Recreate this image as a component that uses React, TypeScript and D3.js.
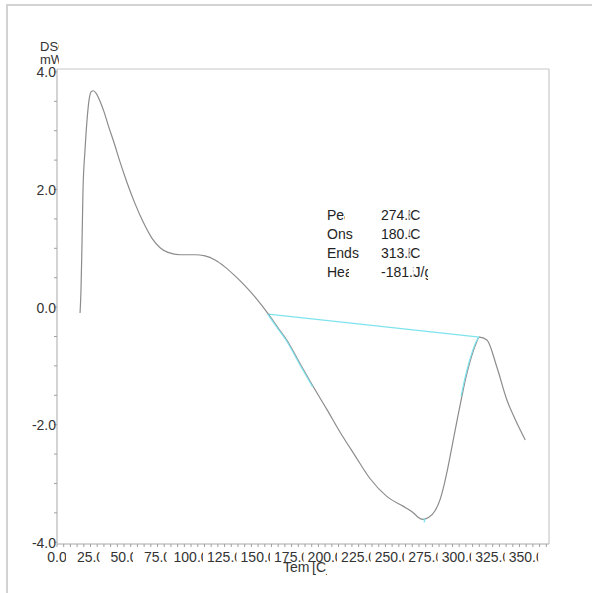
import React from "react";
import * as d3 from "d3";

// DSC curve (temperature °C, heat flow mW)
const temps = [17.2, 17.9, 18.7, 19.4, 20.9, 22.4, 23.9, 25.4, 27.1, 29.1, 32.1, 35.1, 38.1, 42.5, 47.0, 52.2, 58.2, 64.2, 70.9, 76.9, 82.8, 91.8, 103.0, 110.4, 117.9, 125.4, 132.8, 140.3, 147.8, 157.7, 164.5, 171.4, 181, 191.3, 201.3, 211.2, 222.4, 233.6, 246.0, 258.4, 263.4, 266.4, 269.6, 272.6, 277.1, 282.1, 285.8, 288.8, 291.5, 295, 298.5, 302.0, 305, 308.2, 311.9, 315.1, 320.7, 328.1, 335.6, 342, 349.3];
const dsc = [-0.10, 0.29, 1.14, 1.99, 2.67, 3.18, 3.52, 3.66, 3.68, 3.64, 3.50, 3.32, 3.10, 2.80, 2.47, 2.12, 1.76, 1.45, 1.17, 1.01, 0.93, 0.89, 0.89, 0.87, 0.80, 0.68, 0.53, 0.36, 0.17, -0.12, -0.34, -0.56, -0.95, -1.36, -1.74, -2.13, -2.53, -2.92, -3.22, -3.39, -3.46, -3.51, -3.58, -3.61, -3.58, -3.46, -3.27, -3.02, -2.74, -2.33, -1.92, -1.52, -1.20, -0.92, -0.66, -0.51, -0.56, -1.02, -1.58, -1.92, -2.26];

// integration baseline (start / end)
const baselineT = [157.7, 315.1];
const baselineV = [-0.12, -0.51];
const peakT = 274.8;

// tick labels
const xTicks = [0, 25, 50, 75, 100, 125, 150, 175, 200, 225, 250, 275, 300, 325, 350];
const yTicks = [4, 2, 0, -2, -4];

// result box
const resultNames = ["Peak", "Onset", "Endset", "Heat"];
const resultValues = ["274.8", "180.4", "313.8", "-181.5"];
const resultUnits = ["C", "C", "C", "J/g"];

const FONT = "'Liberation Sans', Arial, sans-serif";

// gradient that is solid up to x=cut and transparent after
function Cut({ id, cut, color }: { id: string; cut: number; color: string }) {
  const o = cut / 600;
  return (
    <linearGradient id={id} gradientUnits="userSpaceOnUse" x1={0} y1={0} x2={600} y2={0}>
      <stop offset={o} stopColor={color} stopOpacity={1} />
      <stop offset={o} stopColor={color} stopOpacity={0} />
    </linearGradient>
  );
}

export default function App() {
  const L = 57, R = 549, T = 69, B = 544;
  const x = d3.scaleLinear().domain([0, 367]).range([L, R]);
  const y = d3.scaleLinear().domain([-4.03, 4.05]).range([B, T]);

  const pts: [number, number][] = temps.map((t, i) => [t, dsc[i]]);
  const line = d3
    .line<[number, number]>()
    .x((d) => x(d[0]))
    .y((d) => y(d[1]))
    .curve(d3.curveMonotoneX);

  const cyanLeft = pts.filter((p) => p[0] >= 157.7 && p[0] <= 191.3);
  const cyanRight = pts.filter((p) => p[0] >= 300 && p[0] <= 315.1);
  const peakV = dsc[temps.indexOf(272.6)];

  const minorX = d3.range(0, 366, 5);
  const minorY = d3.range(-4, 4.01, 0.5);

  const nameCut = [345, 353, 359, 349];
  const lastW = [2, 2, 2, 0.6];
  const rowY = [220, 239, 258, 277];

  return (
    <svg
      width={592}
      height={593}
      style={{ position: "absolute", left: 0, top: 0, background: "#fff" }}
      fontFamily={FONT}
    >
      <defs>
        {xTicks.map((t, i) => (
          <clipPath id={`xl${i}`} key={i}>
            <rect x={x(t) - 25} y={540} width={25 + (t >= 100 ? 12 : 9)} height={40} />
          </clipPath>
        ))}
        <clipPath id="ylab">
          <rect x={0} y={0} width={56.5} height={593} />
        </clipPath>
        <clipPath id="ytitle">
          <rect x={0} y={0} width={59} height={80} />
        </clipPath>
        {resultNames.map((_, i) => (
          <Cut key={`n${i}`} id={`rn${i}`} cut={nameCut[i]} color="#222" />
        ))}
        <Cut id="ru" cut={428} color="#222" />
        <Cut id="xt1" cut={309} color="#333" />
        <Cut id="xt2" cut={327} color="#333" />
      </defs>

      {/* outer frame */}
      <rect x={7} y={5} width={700} height={700} fill="none" stroke="#d2d2d2" strokeWidth={2} />

      {/* plot frame */}
      <line x1={L} x2={R} y1={T} y2={T} stroke="#c8c8c8" strokeWidth={1.2} />
      <line x1={R} x2={R} y1={T} y2={B} stroke="#c8c8c8" strokeWidth={1.2} />
      <line x1={L} x2={L} y1={T} y2={B} stroke="#a8a8a8" strokeWidth={1} />
      <line x1={L} x2={R} y1={B} y2={B} stroke="#a8a8a8" strokeWidth={1} />

      {/* ticks */}
      {minorX.map((t) => (
        <line key={t} x1={x(t)} x2={x(t)} y1={B} y2={B + 3} stroke="#a0a0a0" strokeWidth={1} />
      ))}
      {minorY.map((v) => (
        <line key={v} x1={L - 3} x2={L} y1={y(v)} y2={y(v)} stroke="#a0a0a0" strokeWidth={1} />
      ))}

      {/* x tick labels */}
      {xTicks.map((t, i) => (
        <text
          key={t}
          x={x(t)}
          y={562}
          textAnchor="middle"
          fontSize={14}
          fill="#333"
          clipPath={`url(#xl${i})`}
        >
          {t.toFixed(1)}
        </text>
      ))}

      {/* y tick labels */}
      <g clipPath="url(#ylab)">
        {yTicks.map((v) => (
          <text key={v} x={56} y={y(v) + 5.5} textAnchor="end" fontSize={14} fill="#333">
            {v.toFixed(1)}
          </text>
        ))}
      </g>

      {/* axis titles */}
      <g clipPath="url(#ytitle)">
        <text x={40} y={50.5} fontSize={13} fill="#333">DSC</text>
        <text x={40} y={64} fontSize={13} fill="#333">mW</text>
      </g>
      <text y={572} fontSize={14}>
        <tspan x={283} fill="url(#xt1)">Temp</tspan>
        <tspan x={312} fill="url(#xt2)">[C]</tspan>
      </text>

      {/* baseline */}
      <line
        x1={x(baselineT[0])}
        y1={y(baselineV[0])}
        x2={x(baselineT[1])}
        y2={y(baselineV[1])}
        stroke="#7fe3ee"
        strokeWidth={1.2}
      />

      {/* curve */}
      <path d={line(pts) || ""} fill="none" stroke="#8c8c8c" strokeWidth={1.2} />

      {/* tangent highlights */}
      <path d={line(cyanLeft) || ""} fill="none" stroke="#7fe3ee" strokeWidth={1.2} transform="translate(-0.8,0)" />
      <path d={line(cyanRight) || ""} fill="none" stroke="#7fe3ee" strokeWidth={1.2} transform="translate(-0.8,0)" />
      <line x1={x(peakT) - 1} x2={x(peakT) - 1} y1={y(peakV) - 1} y2={y(peakV) + 3} stroke="#7fe3ee" strokeWidth={1.5} />

      {/* results */}
      {resultNames.map((n, i) => {
        const v = resultValues[i];
        return (
          <g key={n}>
            <text x={327} y={rowY[i]} fontSize={14} fill={`url(#rn${i})`}>
              {n}
            </text>
            <text x={381} y={rowY[i]} fontSize={14} fill="#222">
              <tspan>{v.slice(0, -1)}</tspan>
              <tspan textLength={lastW[i]} lengthAdjust="spacingAndGlyphs">{v.slice(-1)}</tspan>
              <tspan fill="url(#ru)">{resultUnits[i]}</tspan>
            </text>
          </g>
        );
      })}
    </svg>
  );
}
